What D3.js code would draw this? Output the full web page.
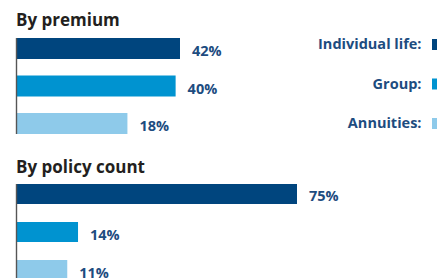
<!DOCTYPE html>
<html>
<head>
<meta charset="utf-8">
<script src="https://cdn.jsdelivr.net/npm/d3@7"></script>
<style>
  html, body { margin: 0; padding: 0; background: #fff; }
  svg { display: block; font-family: "Open Sans", sans-serif; }
</style>
</head>
<body>
<svg id="chart" width="438" height="278"></svg>
<script>
// ---- data ----
const series = ["Individual life", "Group", "Annuities"];
const legendLabels = ["Individual life:", "Group:", "Annuities:"];
const colors = ["#00457e", "#0093d0", "#8ecaea"];
const panelTitles = ["By premium", "By policy count"];
const premiumValues = [42, 40, 18];
const policyCountValues = [75, 14, 11];
const valueLabels = [["42%", "40%", "18%"], ["75%", "14%", "11%"]];

// ---- layout ----
const svg = d3.select("#chart");
const color = d3.scaleOrdinal().domain(series).range(colors);
const x0 = 17;

const panels = [
  { title: panelTitles[0], values: premiumValues, labels: valueLabels[0],
    titleY: 26, yRange: [38, 134], xDomain: [-32.4, 42], xRange: [x0, x0 + 163], padIn: 0.44 },
  { title: panelTitles[1], values: policyCountValues, labels: valueLabels[1],
    titleY: 173, yRange: [184, 280], xDomain: [-3, 75], xRange: [x0, x0 + 280], padIn: 0.474 }
];

panels.forEach(p => {
  const g = svg.append("g");
  const x = d3.scaleLinear().domain(p.xDomain).range(p.xRange);
  const y = d3.scaleBand().domain(series).range(p.yRange).paddingInner(p.padIn).paddingOuter(0);

  g.append("text")
    .attr("x", 16).attr("y", p.titleY)
    .attr("font-size", 17).attr("font-weight", 700)
    .attr("fill", "#231f20")
    .text(p.title);

  const data = series.map((s, i) => ({ s, v: p.values[i], label: p.labels[i] }));

  g.selectAll("rect.bar").data(data).join("rect")
    .attr("class", "bar")
    .attr("x", x0)
    .attr("y", d => y(d.s))
    .attr("width", d => x(d.v) - x0)
    .attr("height", y.bandwidth())
    .attr("fill", d => color(d.s));

  g.selectAll("text.val").data(data).join("text")
    .attr("class", "val")
    .attr("x", d => x(d.v) + 12)
    .attr("y", d => y(d.s) + y.bandwidth() / 2 + 7.5)
    .attr("font-size", 14.5).attr("font-weight", 700)
    .attr("fill", "#1d4c7f")
    .text(d => d.label);

  // axis line
  const axis = d3.axisLeft(y).tickSize(0).tickFormat("");
  const ax = g.append("g").attr("transform", `translate(${x0 - 0.5},0)`).call(axis);
  ax.select(".domain").attr("stroke", "#555").attr("stroke-width", 1.4)
    .attr("d", `M0,${p.yRange[0]}V${p.yRange[1]}`);
});

// legend
const ly = d3.scalePoint().domain(series).range([44.5, 123.5]);
const lg = svg.append("g");
series.forEach((s, i) => {
  lg.append("text")
    .attr("x", 421.5).attr("y", ly(s) + 4.5)
    .attr("text-anchor", "end")
    .attr("font-size", 14.5).attr("font-weight", 700)
    .attr("fill", "#1d4c7f")
    .text(legendLabels[i]);
  lg.append("rect")
    .attr("x", 432).attr("y", ly(s) - 5.5)
    .attr("width", 5).attr("height", 11)
    .attr("fill", color(s));
});
</script>
</body>
</html>
